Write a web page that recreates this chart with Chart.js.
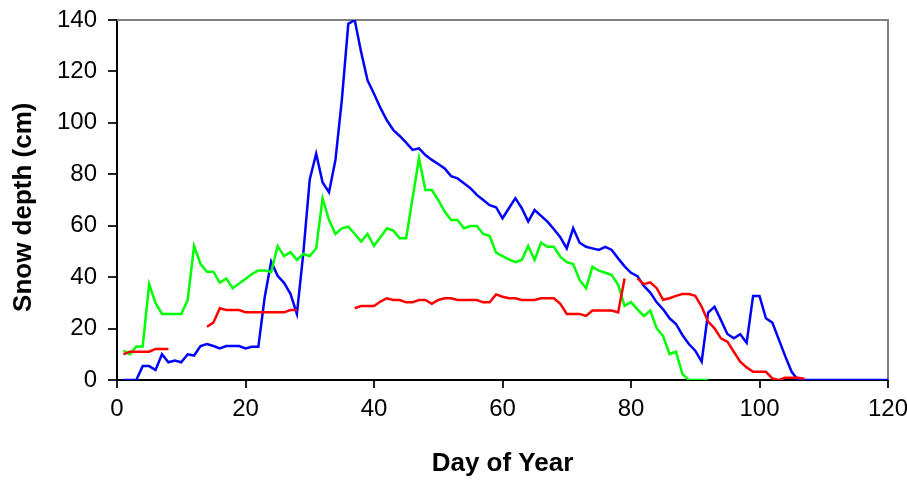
<!DOCTYPE html>
<html lang="en">
<head>
    <meta charset="UTF-8">
    <title>Snow depth</title>
    <style>
        body { margin: 0; background: #fff; }
    </style>
</head>
<body>
    <canvas id="mychart" width="907" height="480"></canvas>
    <script src="https://cdn.jsdelivr.net/npm/chart.js"></script>
    <script>
        // day numbers shared by the three series
        const days = [1,2,3,4,5,6,7,8,9,10,11,12,13,14,15,16,17,18,19,20,
            21,22,23,24,25,26,27,28,29,30,31,32,33,34,35,36,37,38,39,40,
            41,42,43,44,45,46,47,48,49,50,51,52,53,54,55,56,57,58,59,60,
            61,62,63,64,65,66,67,68,69,70,71,72,73,74,75,76,77,78,79,80,
            81,82,83,84,85,86,87,88,89,90,91,92,93,94,95,96,97,98,99,100,
            101,102,103,104,105,106,107,108,109,110,111,112,113,114,115,116,117,118,119,120];

        // snow depth in cm, one value per day (null = no reading)
        const blueDepth = [0,0,0,5.4,5.4,3.9,10,6.9,7.6,6.9,10,9.5,13.2,14,13.2,12.3,13.2,13.2,13.2,12.3,
            12.9,12.9,32.4,46,40.5,37.8,33.5,25.7,49.3,78,88,76.8,73,85.6,109,138.5,140,127.5,116.5,111.3,
            105.8,101,97.2,94.9,92.3,89.5,90.1,87.5,85.6,84,82.3,79.3,78.4,76.5,74.6,72,70,68,67.2,62.9,
            66.8,70.7,66.8,61.6,66.1,63.8,61.6,58.6,55.5,51.2,59,53.4,51.8,51.2,50.6,51.8,50.6,47.3,44.2,41.7,
            40.4,36.6,34,30.2,27.5,24,21.8,17.5,14,11.4,7.1,26.2,28.5,23.3,17.9,16.2,17.8,14.5,32.7,32.7,
            24,22.3,15.8,9.3,3.2,0,0,0,0,0,0,0,0,0,0,0,0,0,0,0];

        const greenDepth = [11.4,10,13,13,37.3,30,25.7,25.7,25.7,25.7,31.1,52.1,45.1,42.1,42.1,37.8,39.5,35.7,37.5,39.3,
            41.2,42.6,42.6,42,52.1,48.2,49.7,46.7,49,48.2,51.2,70.7,62.2,56.8,59,59.6,56.8,53.8,56.8,52.1,
            55.5,59,58.1,55.1,55.1,70.7,86.2,73.9,73.9,70,65.5,62.2,62.2,59,59.9,59.9,56.8,56,49.5,48.2,
            46.9,45.8,46.7,52.1,46.7,53.4,51.8,51.8,48,45.8,45.1,38.9,35.7,44.1,42.5,41.7,40.8,37,28.8,30.3,
            27.5,24.9,27,20.1,17.1,10.1,11,2.3,0,0,0,0];

        const redDepth = [10,11,11,11,11,12.1,12.1,12.1,null,null,null,null,null,20.7,22.3,27.9,27.2,27.2,27.2,26.3,
            26.3,26.3,26.3,26.3,26.3,26.3,27.2,27.2,null,null,null,null,null,null,null,null,27.9,28.8,28.8,28.8,
            30.5,31.8,31.1,31.1,30.2,30.2,31.1,31.1,29.6,31.1,31.8,31.8,31.1,31.1,31.1,31.1,30.2,30.2,33.3,32.4,
            31.8,31.8,31.1,31.1,31.1,31.8,31.8,31.8,29.6,25.7,25.7,25.7,24.9,27,27,27,27,26.3,39.5,null,
            39.5,37.3,38,35.7,31.2,31.8,32.7,33.4,33.4,32.7,28.5,22.7,20.1,16.2,14.9,11,7.1,4.9,3.2,3.2,
            3.2,0.6,0,0.9,0.9,0.9,0.5];

        const xTicks = [0, 20, 40, 60, 80, 100, 120];
        const yTicks = [0, 20, 40, 60, 80, 100, 120, 140];

        function points(values) {
            return values.map((v, i) => ({ x: days[i], y: v }));
        }

        const font = "'Liberation Sans', Arial, sans-serif";

        // grey frame on the top and right of the plot area
        const frame = {
            id: 'frame',
            beforeDatasetsDraw(chart) {
                const a = chart.chartArea;
                const c = chart.ctx;
                c.save();
                c.strokeStyle = '#808080';
                c.lineWidth = 2;
                c.beginPath();
                c.moveTo(a.left, a.top);
                c.lineTo(a.right, a.top);
                c.lineTo(a.right, a.bottom);
                c.stroke();
                c.restore();
            }
        };

        const line = (values, color) => ({
            data: points(values),
            borderColor: color,
            borderWidth: 2.5,
            pointRadius: 0,
            tension: 0,
            spanGaps: false,
            fill: false
        });

        new Chart(document.getElementById('mychart').getContext('2d'), {
            type: 'line',
            data: {
                datasets: [
                    line(redDepth, '#ff0000'),
                    line(greenDepth, '#00ff00'),
                    line(blueDepth, '#0000ff')
                ]
            },
            plugins: [frame],
            options: {
                responsive: false,
                animation: false,
                layout: { padding: { top: 20, right: 19, left: 0, bottom: 0 } },
                plugins: { legend: { display: false }, tooltip: { enabled: false } },
                scales: {
                    x: {
                        type: 'linear',
                        min: 0,
                        max: 120,
                        afterBuildTicks: s => { s.ticks = xTicks.map(v => ({ value: v })); },
                        afterFit: s => { s.height = 100; s.paddingLeft = 0; s.paddingRight = 0; },
                        grid: { drawOnChartArea: false, drawTicks: true, tickLength: 8, color: '#222', lineWidth: 2 },
                        border: { color: '#000', width: 2 },
                        ticks: { color: '#000', padding: 7, maxRotation: 0, autoSkip: false,
                                 font: { family: font, size: 24 } },
                        title: { display: true, text: 'Day of Year', color: '#000',
                                 padding: { top: 0, bottom: 1 },
                                 font: { family: font, size: 26, weight: 'bold' } }
                    },
                    y: {
                        min: 0,
                        max: 140,
                        afterBuildTicks: s => { s.ticks = yTicks.map(v => ({ value: v })); },
                        afterFit: s => { s.width = 117; s.paddingTop = 0; s.paddingBottom = 0; },
                        grid: { drawOnChartArea: false, drawTicks: true, tickLength: 9, color: '#222', lineWidth: 2 },
                        border: { color: '#000', width: 2 },
                        ticks: { color: '#000', padding: 11, font: { family: font, size: 24 } },
                        title: { display: true, text: 'Snow depth (cm)  ', color: '#000',
                                 padding: { top: 8, bottom: 0 },
                                 font: { family: font, size: 26, weight: 'bold' } }
                    }
                }
            }
        });
    </script>
</body>
</html>
